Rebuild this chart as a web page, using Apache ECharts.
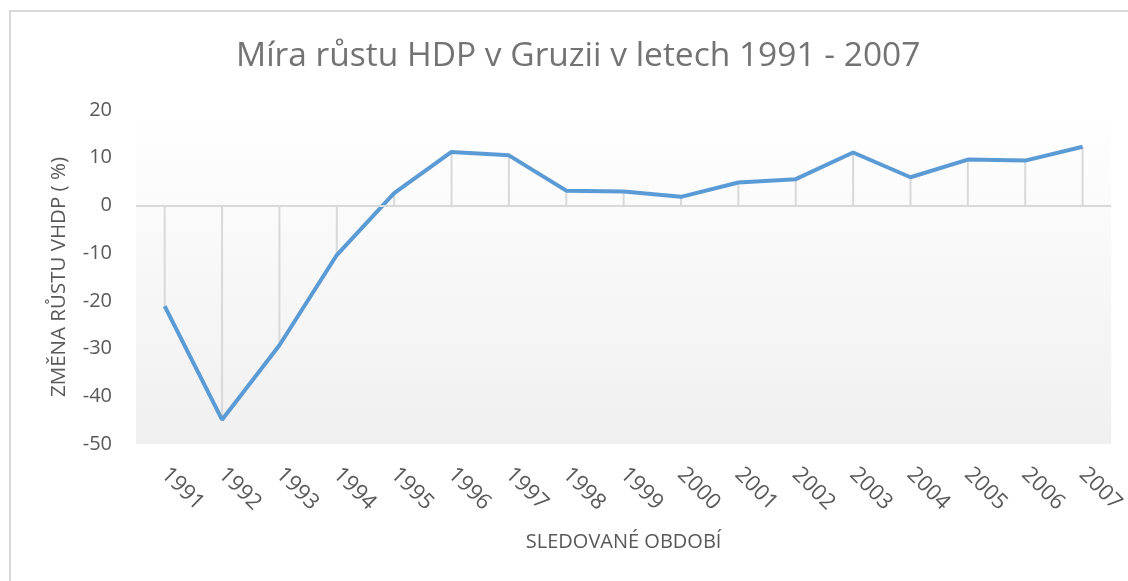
<!DOCTYPE html>
<html>
<head>
<meta charset="utf-8">
<script src="https://cdn.jsdelivr.net/npm/echarts@6/dist/echarts.min.js"></script>
<style>
html, body { margin: 0; padding: 0; background: #fff; }
#echarts { width: 1128px; height: 581px; }
</style>
</head>
<body>
<div id="echarts"></div>
<script>
var years = ['1991', '1992', '1993', '1994', '1995', '1996', '1997', '1998', '1999',
    '2000', '2001', '2002', '2003', '2004', '2005', '2006', '2007'];
var growth = [-21.1, -44.9, -29.3, -10.4, 2.6, 11.2, 10.5, 3.1, 2.9,
    1.8, 4.8, 5.5, 11.1, 5.9, 9.6, 9.4, 12.3];

var font = 'Open Sans';
var myChart = echarts.init(document.getElementById('echarts'));

var option = {
    animation: false,
    textStyle: { fontFamily: font },
    graphic: [{
        type: 'rect',
        shape: { x: 10, y: 11, width: 1200, height: 700 },
        style: { fill: 'none', stroke: '#d9d9d9', lineWidth: 2 },
        silent: true
    }],
    title: {
        text: 'Míra růstu HDP v Gruzii v letech 1991 - 2007',
        left: 231,
        top: 34,
        textStyle: { fontFamily: font, fontSize: 33.5, fontWeight: 'normal', color: '#737373' }
    },
    grid: {
        left: 136,
        right: 15,
        top: 110,
        bottom: 137,
        show: true,
        borderWidth: 0,
        backgroundColor: new echarts.graphic.LinearGradient(0, 0, 0, 1, [
            { offset: 0, color: '#ffffff' },
            { offset: 1, color: '#f0f0f0' }
        ])
    },
    xAxis: {
        type: 'category',
        data: years,
        name: 'SLEDOVANÉ OBDOBÍ',
        nameLocation: 'middle',
        nameGap: 88,
        nameTextStyle: { fontSize: 20, color: '#595959' },
        axisLine: { show: false, onZero: false },
        axisTick: { show: false },
        axisLabel: { rotate: -45, fontSize: 22, color: '#595959', margin: 27 }
    },
    yAxis: {
        type: 'value',
        min: -50,
        max: 20,
        interval: 10,
        name: 'ZMĚNA RŮSTU VHDP ( %)',
        nameLocation: 'middle',
        nameGap: 66,
        nameTextStyle: { fontSize: 20.5, color: '#595959' },
        axisLine: { show: false },
        axisTick: { show: false },
        splitLine: { show: false },
        axisLabel: { fontSize: 20, color: '#595959', margin: 24 }
    },
    series: [
        {
            type: 'bar',
            data: growth,
            barWidth: 2,
            itemStyle: { color: '#d9d9d9' },
            silent: true
        },
        {
            type: 'line',
            data: growth,
            symbol: 'none',
            lineStyle: { color: '#5b9bd5', width: 4 },
            markLine: {
                silent: true,
                symbol: 'none',
                label: { show: false },
                lineStyle: { color: '#d9d9d9', width: 2, type: 'solid' },
                data: [{ yAxis: 0 }]
            },
            z: 3
        }
    ]
};
myChart.setOption(option);
</script>
</body>
</html>
